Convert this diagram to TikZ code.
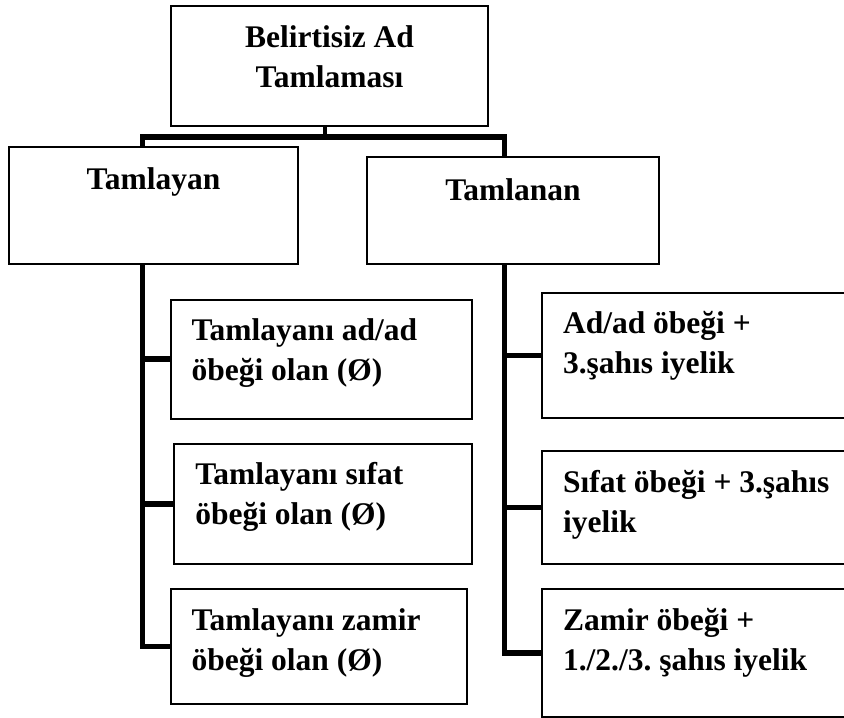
\documentclass[tikz,border=0pt]{standalone}
\usepackage{fontspec}
\setmainfont{Liberation Serif}
\usepackage{tikz}
\usetikzlibrary{positioning,backgrounds}

\newcommand{\celltext}[3]{\parbox[c][#2][t]{#1}{\raggedright\frenchspacing\strut #3}}
\newcommand{\midtext}[3]{\parbox[c][#2][t]{#1}{\centering\strut #3}}

\begin{document}
\begin{tikzpicture}[x=1bp, y=-1bp,
    cell/.style={draw, line width=2bp, fill=white, anchor=north west,
      inner xsep=21bp, inner ysep=13bp,
      font=\bfseries\fontsize{31.5bp}{40bp}\selectfont},
    link/.style={line width=5.5bp}]
    \useasboundingbox (0,0) rectangle (844,718);
    \clip (0,0) rectangle (844,718);

    % Head
    \node[cell] (head) at (170,5.5) {\midtext{275bp}{93bp}{Belirtisiz Ad\\Tamlaması}};

    % Tamlayan side
    \node[cell, inner ysep=14bp] (yan) at (8,146.5) {\midtext{247bp}{88.5bp}{Tamlayan}};
    \node[cell] (yan1) at (169.6,298.5) {\celltext{259bp}{93bp}{Tamlayanı ad/ad\\öbeği olan (Ø)}};
    \node[cell] (yan2) at (173.3,442.8) {\celltext{256bp}{94bp}{Tamlayanı sıfat\\öbeği olan (Ø)}};
    \node[cell] (yan3) at (169.6,588.4) {\celltext{254bp}{88.5bp}{Tamlayanı zamir\\öbeği olan (Ø)}};

    % Tamlanan side, cut off at the right edge
    \node[cell, inner ysep=15bp] (nan) at (366,156) {\midtext{250bp}{77bp}{Tamlanan}};
    \node[cell] (nan1) at (541,291.7) {\celltext{360bp}{99.5bp}{Ad/ad öbeği +\\3.şahıs iyelik}};
    \node[cell] (nan2) at (541,450) {\celltext{360bp}{86.5bp}{Sıfat öbeği + 3.şahıs\\iyelik}};
    \node[cell] (nan3) at (541,588) {\celltext{360bp}{102bp}{Zamir öbeği +\\1./2./3. şahıs iyelik}};

    % Lines
    \begin{scope}[on background layer]
        \coordinate (busL) at (142.6,137);
        \coordinate (busR) at (504.4,137);
        \draw[link, line width=4bp] ([xshift=-5bp]head.south) -- ([xshift=-5bp]head.south |- busL);
        \draw[link] (yan3.west) -| (busL) -- (busR) |- (nan3.west);
        \foreach \n in {yan1,yan2} \draw[link] (busL |- \n.west) -- (\n.west);
        \foreach \n in {nan1,nan2} \draw[link] (busR |- \n.west) -- (\n.west);
    \end{scope}
\end{tikzpicture}
\end{document}
